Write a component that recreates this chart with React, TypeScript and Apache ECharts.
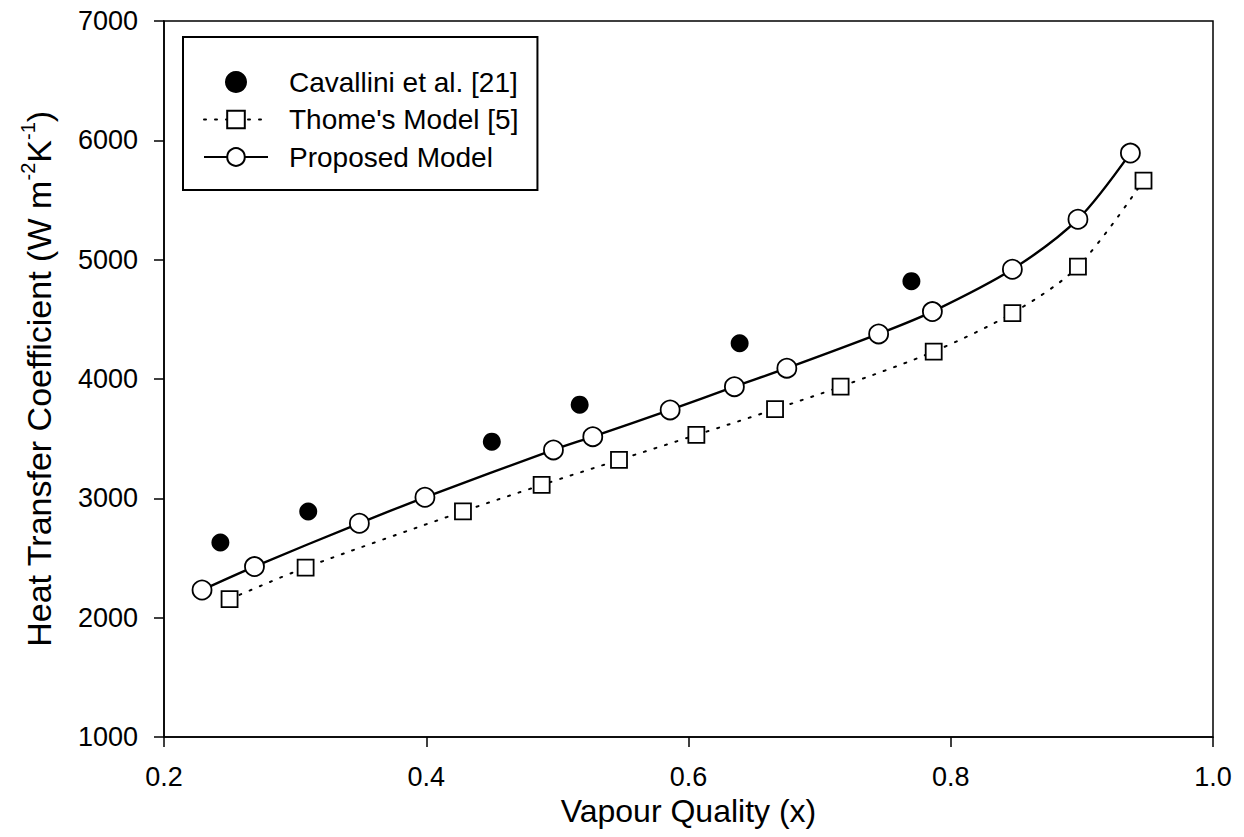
import React, { useEffect, useRef } from "react";
import * as echarts from "echarts";

// Vapour quality (x) and heat transfer coefficient (W m^-2 K^-1)
const cavalliniX = [0.243, 0.31, 0.45, 0.517, 0.639, 0.77];
const cavalliniY = [2630, 2890, 3475, 3785, 4300, 4820];

const thomeX = [0.25, 0.308, 0.428, 0.488, 0.547, 0.606, 0.666, 0.716, 0.787, 0.847, 0.897, 0.947];
const thomeY = [2155, 2420, 2890, 3112, 3322, 3531, 3747, 3936, 4230, 4552, 4942, 5663];

const proposedX = [0.229, 0.269, 0.349, 0.399, 0.497, 0.527, 0.586, 0.635, 0.675, 0.745, 0.786, 0.847, 0.897, 0.937];
const proposedY = [2232, 2428, 2791, 3009, 3406, 3517, 3741, 3936, 4091, 4378, 4565, 4920, 5339, 5893];

const xTicks = { min: 0.2, max: 1.0, interval: 0.2 };
const yTicks = { min: 1000, max: 7000, interval: 1000 };

const seriesNames = ["Cavallini et al. [21]", "Thome's Model [5]", "Proposed Model"];

const zip = (xs: number[], ys: number[]) => xs.map((x, i) => [x, ys[i]]);

const FONT = "'Liberation Sans', Arial, sans-serif";

export default function App() {
  const ref = useRef<HTMLDivElement>(null);

  useEffect(() => {
    if (!ref.current) return;
    const chart = echarts.init(ref.current, undefined, { renderer: "svg" });
    chart.setOption({
      animation: false,
      backgroundColor: "#ffffff",
      textStyle: { fontFamily: FONT, color: "#000" },
      grid: {
        left: 164,
        right: 31,
        top: 21,
        bottom: 100,
        show: true,
        borderColor: "#000",
        borderWidth: 1.5,
        backgroundColor: "transparent",
      },
      legend: {
        orient: "vertical",
        left: 183,
        top: 37,
        padding: [31, 19, 19, 20],
        itemWidth: 64,
        itemHeight: 22,
        itemGap: 9.5,
        borderColor: "#000",
        borderWidth: 2,
        borderRadius: 0,
        data: seriesNames,
        textStyle: {
          fontFamily: FONT,
          fontSize: 28,
          lineHeight: 28,
          color: "#000",
          padding: [0, 0, 0, 16],
        },
      },
      xAxis: {
        type: "value",
        min: xTicks.min,
        max: xTicks.max,
        interval: xTicks.interval,
        name: "Vapour Quality (x)",
        nameLocation: "middle",
        nameGap: 52,
        nameTextStyle: { fontFamily: FONT, fontSize: 32, color: "#000" },
        axisLine: { show: true, lineStyle: { color: "#000", width: 1.5 } },
        axisTick: { show: true, inside: false, length: 10, lineStyle: { color: "#000", width: 1.5 } },
        axisLabel: {
          margin: 26,
          fontFamily: FONT,
          fontSize: 27,
          color: "#000",
          formatter: (v: number) => v.toFixed(1),
        },
        splitLine: { show: false },
      },
      yAxis: {
        type: "value",
        min: yTicks.min,
        max: yTicks.max,
        interval: yTicks.interval,
        name: "{a|Heat Transfer Coefficient (W m}{s|-2}{a|K}{s|-1}{a|)}",
        nameLocation: "middle",
        nameGap: 108,
        nameRotate: 90,
        nameTextStyle: {
          fontFamily: FONT,
          color: "#000",
          rich: {
            a: { fontFamily: FONT, fontSize: 34, color: "#000", verticalAlign: "bottom", lineHeight: 38 },
            s: { fontFamily: FONT, fontSize: 20, color: "#000", verticalAlign: "top", lineHeight: 38 },
          },
        },
        axisLine: { show: true, lineStyle: { color: "#000", width: 1.5 } },
        axisTick: { show: true, inside: false, length: 10, lineStyle: { color: "#000", width: 1.5 } },
        axisLabel: {
          margin: 26,
          fontFamily: FONT,
          fontSize: 27,
          color: "#000",
          formatter: (v: number) => String(Math.round(v)),
        },
        splitLine: { show: false },
      },
      series: [
        {
          name: seriesNames[0],
          type: "scatter",
          data: zip(cavalliniX, cavalliniY),
          symbol: "circle",
          symbolSize: 18,
          itemStyle: { color: "#000", borderColor: "#000", borderWidth: 0, opacity: 1 },
          z: 4,
        },
        {
          name: seriesNames[1],
          type: "line",
          data: zip(thomeX, thomeY),
          smooth: 0.3,
          symbol: "rect",
          symbolSize: 16,
          showAllSymbol: true,
          lineStyle: { color: "#000", width: 2, type: [2, 9], cap: "round" },
          itemStyle: { color: "#fff", borderColor: "#000", borderWidth: 1.8 },
          z: 3,
        },
        {
          name: seriesNames[2],
          type: "line",
          data: zip(proposedX, proposedY),
          smooth: 0.3,
          symbol: "circle",
          symbolSize: 19,
          showAllSymbol: true,
          lineStyle: { color: "#000", width: 2.4, type: "solid" },
          itemStyle: { color: "#fff", borderColor: "#000", borderWidth: 1.8 },
          z: 5,
        },
      ],
    });
    return () => chart.dispose();
  }, []);

  return (
    <div
      ref={ref}
      style={{ position: "fixed", left: 0, top: 0, width: 1244, height: 837, background: "#fff" }}
    />
  );
}
